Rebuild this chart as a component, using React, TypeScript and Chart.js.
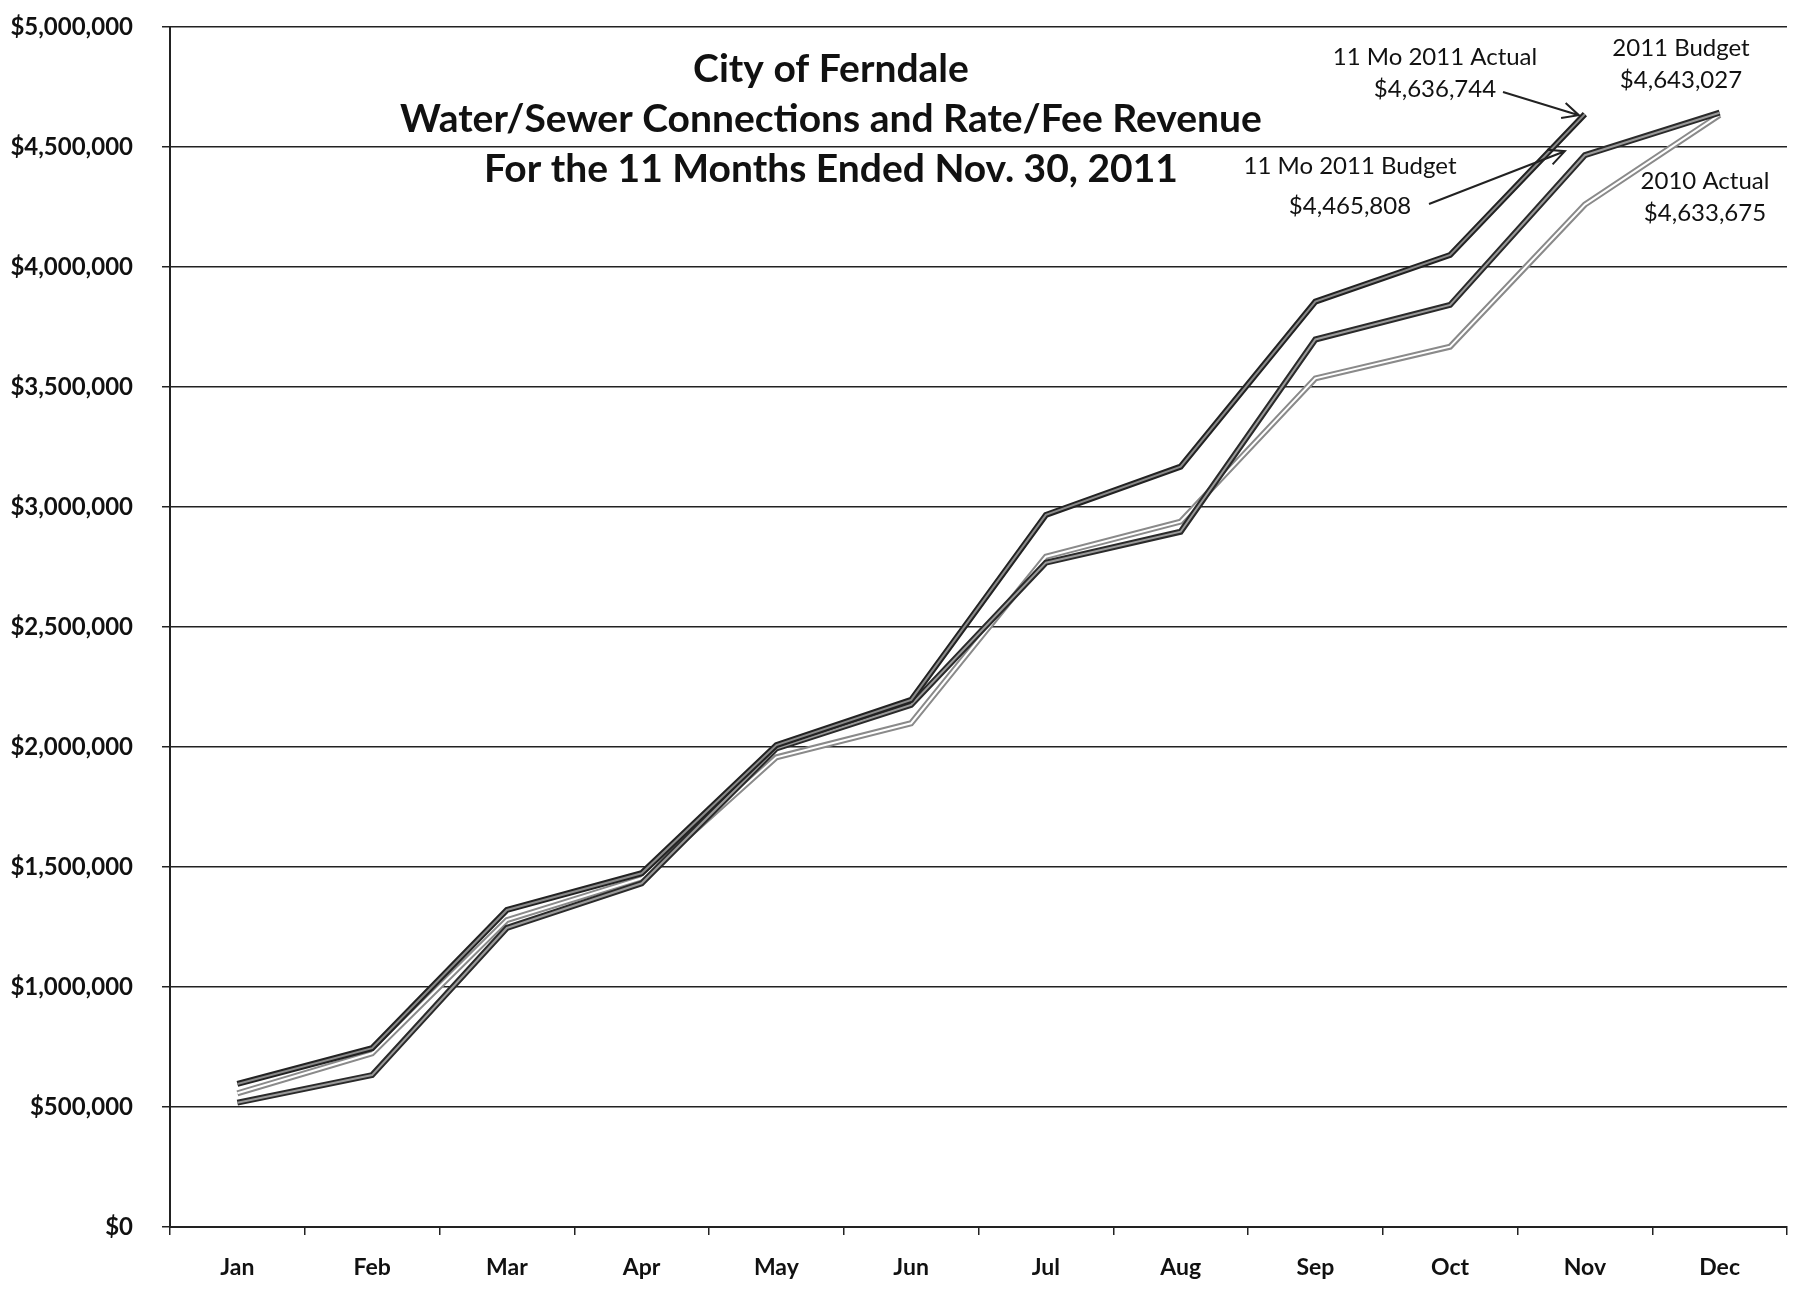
import React, { useEffect, useRef } from "react";
import { Chart, registerables } from "chart.js";

Chart.register(...registerables);

const months = ["Jan", "Feb", "Mar", "Apr", "May", "Jun", "Jul", "Aug", "Sep", "Oct", "Nov", "Dec"];
const actual2011: (number | null)[] = [596000, 745000, 1321000, 1474000, 2008000, 2196000, 2967000, 3168000, 3856000, 4050000, 4636744, null];
const budget2011 = [518000, 633000, 1246000, 1432000, 1994000, 2175000, 2768000, 2897000, 3698000, 3842000, 4465808, 4643027];
const actual2010 = [557000, 724000, 1279000, 1453000, 1957000, 2099000, 2793000, 2939000, 3536000, 3668000, 4260000, 4633675];

const titleLines = [
  "City of Ferndale",
  "Water/Sewer Connections and Rate/Fee Revenue",
  "For the 11 Months Ended Nov. 30, 2011",
];

const FONT = "Lato, 'Open Sans', sans-serif";

function arrow(ctx: CanvasRenderingContext2D, x1: number, y1: number, x2: number, y2: number) {
  ctx.save();
  ctx.strokeStyle = "#222";
  ctx.lineWidth = 2;
  ctx.beginPath();
  ctx.moveTo(x1, y1);
  ctx.lineTo(x2, y2);
  const a = Math.atan2(y2 - y1, x2 - x1);
  const L = 18;
  ctx.moveTo(x2 - L * Math.cos(a - 0.45), y2 - L * Math.sin(a - 0.45));
  ctx.lineTo(x2, y2);
  ctx.lineTo(x2 - L * Math.cos(a + 0.45), y2 - L * Math.sin(a + 0.45));
  ctx.stroke();
  ctx.restore();
}

const annotationPlugin = {
  id: "annot",
  afterDatasetsDraw(chart: any) {
    const ctx: CanvasRenderingContext2D = chart.ctx;
    const xs = chart.scales.x;
    const ys = chart.scales.y;
    ctx.save();
    ctx.fillStyle = "#111";
    ctx.textAlign = "center";
    ctx.textBaseline = "middle";
    ctx.font = `bold 39px ${FONT}`;
    titleLines.forEach((t, i) => ctx.fillText(t, 831, 69 + i * 50));

    ctx.font = `24px ${FONT}`;
    ctx.fillText("11 Mo 2011 Actual", 1435, 57);
    ctx.fillText("$" + (actual2011[10] as number).toLocaleString("en-US"), 1435, 89);
    ctx.fillText("2011 Budget", 1681, 48);
    ctx.fillText("$" + budget2011[11].toLocaleString("en-US"), 1681, 80);
    ctx.fillText("11 Mo 2011 Budget", 1350, 166);
    ctx.fillText("$" + budget2011[10].toLocaleString("en-US"), 1350, 206);
    ctx.fillText("2010 Actual", 1705, 181);
    ctx.fillText("$" + actual2010[11].toLocaleString("en-US"), 1705, 213);
    ctx.restore();

    const nx = xs.getPixelForValue(10);
    arrow(ctx, 1503, 92, nx - 6, ys.getPixelForValue(actual2011[10] as number) + 1);
    arrow(ctx, 1429, 204, nx - 20, ys.getPixelForValue(budget2011[10]) - 4);
  },
};

function pair(data: (number | null)[], outer: string, inner: string, orderBase: number, label: string) {
  const common = {
    data,
    pointRadius: 0,
    tension: 0,
    fill: false,
    borderJoinStyle: "miter" as const,
    spanGaps: false,
  };
  return [
    { ...common, label: label + " outline", borderColor: outer, borderWidth: 6, order: orderBase + 1 },
    { ...common, label, borderColor: inner, borderWidth: 2, order: orderBase },
  ];
}

export default function App() {
  const ref = useRef<HTMLCanvasElement | null>(null);
  useEffect(() => {
    if (!ref.current) return;
    const chart = new Chart(ref.current, {
      type: "line",
      data: {
        labels: months,
        datasets: [
          ...pair(actual2010, "#8a8a8a", "#ffffff", 5, "2010 Actual"),
          ...pair(budget2011, "#2a2a2a", "#9a9a9a", 3, "2011 Budget"),
          ...pair(actual2011, "#222222", "#8a8a8a", 1, "2011 Actual"),
        ],
      },
      options: {
        animation: false,
        responsive: false,
        maintainAspectRatio: false,
        layout: { padding: { left: 0, right: 10, top: 27, bottom: 0 } },
        plugins: { legend: { display: false }, tooltip: { enabled: false }, title: { display: false } },
        scales: {
          x: {
            type: "category",
            offset: true,
            grid: {
              offset: true,
              drawOnChartArea: false,
              drawTicks: true,
              tickLength: 8,
              color: "#222",
              lineWidth: 1.5,
            },
            border: { display: true, color: "#222", width: 2 },
            ticks: {
              color: "#111",
              font: { family: FONT, size: 23, weight: "bold" },
              padding: 19,
              maxRotation: 0,
            },
            afterFit: (s: any) => {
              s.height = 80;
              s.paddingLeft = 0;
              s.paddingRight = 0;
            },
          },
          y: {
            min: 0,
            max: 5000000,
            ticks: {
              stepSize: 500000,
              color: "#111",
              font: { family: FONT, size: 24, weight: "bold" },
              padding: 29,
              callback: (v: any) => "$" + Number(v).toLocaleString("en-US"),
            },
            grid: { color: "#222", lineWidth: 1.5, tickLength: 8, drawTicks: true },
            border: { display: true, color: "#222", width: 2 },
            afterFit: (s: any) => {
              s.width = 170;
              s.paddingTop = 0;
              s.paddingBottom = 0;
            },
          },
        },
      },
      plugins: [annotationPlugin],
    });
    return () => chart.destroy();
  }, []);
  return (
    <div style={{ position: "fixed", left: 0, top: 0, width: 1797, height: 1307, background: "#fff" }}>
      <canvas ref={ref} width={1797} height={1307} style={{ width: 1797, height: 1307 }} />
    </div>
  );
}
